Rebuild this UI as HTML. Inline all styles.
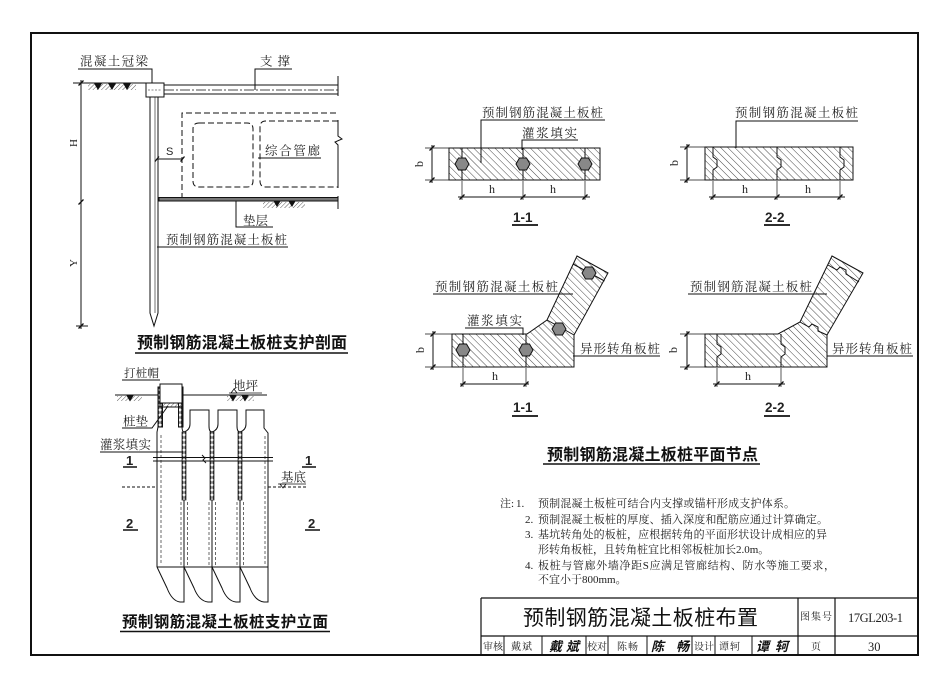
<!DOCTYPE html>
<html><head><meta charset="utf-8">
<style>
html,body{margin:0;padding:0;background:#fff;}
svg{display:block;}
text{font-family:"Liberation Serif","Noto Serif CJK SC",serif;fill:#222;font-size:12.5px;}
.s{font-family:"Liberation Sans","Noto Sans CJK SC",sans-serif;}
.t{font-family:"Liberation Sans","Noto Sans CJK SC",sans-serif;font-weight:bold;font-size:16px;fill:#111;}
.n{font-size:11px;}
.m{font-size:10px;}
</style></head><body>
<svg width="950" height="686" viewBox="0 0 950 686" xmlns="http://www.w3.org/2000/svg">
<defs>
<pattern id="ph" patternUnits="userSpaceOnUse" width="5" height="5" patternTransform="rotate(-45)"><line x1="0" y1="0" x2="0" y2="5" stroke="#333" stroke-width="0.9"/></pattern>
<pattern id="gh" patternUnits="userSpaceOnUse" width="3" height="3" patternTransform="rotate(45)"><line x1="0" y1="0" x2="0" y2="3" stroke="#333" stroke-width="0.8"/></pattern>
<pattern id="gr" patternUnits="userSpaceOnUse" width="4" height="5"><rect width="4" height="5" fill="#fff"/><ellipse cx="2" cy="2.5" rx="1.6" ry="2.2" fill="#333"/></pattern>
</defs>
<rect width="950" height="686" fill="#fff"/>
<rect x="31" y="33" width="887" height="622" fill="none" stroke="#111" stroke-width="2"/>

<!-- ========== TOP-LEFT SECTION ========== -->
<g stroke="#111" fill="none" stroke-width="1">
<line x1="73" y1="83" x2="146" y2="83"/>
<rect x="88" y="84" width="48" height="6" fill="url(#gh)" stroke="none"/>
<path d="M95,84 h6 l-3,5z M109,84 h6 l-3,5z M124,84 h6 l-3,5z" fill="#111"/>
<polyline points="78,69 152,69 152,83"/>
<rect x="146" y="83" width="18" height="14" fill="#fff"/>
<line x1="148" y1="90" x2="162" y2="90" stroke-dasharray="2 1.5" stroke-width="0.6"/>
<line x1="164" y1="85" x2="338" y2="85"/>
<line x1="164" y1="90" x2="338" y2="90" stroke-dasharray="10 2 2 2" stroke-width="0.8"/>
<line x1="164" y1="94" x2="338" y2="94"/>
<line x1="338" y1="76" x2="338" y2="96"/>
<polyline points="255,90 255,69 292,69"/>
<path d="M150,97 V313 L154,326 L158,313 V97"/>
<line x1="155" y1="97" x2="155" y2="313" stroke-width="0.6"/>
<g stroke-dasharray="6 3">
<polyline points="182,199 182,113 338,113"/>
<path d="M199,123 H247 Q253,123 253,129 V181 Q253,187 247,187 H199 Q193,187 193,181 V129 Q193,123 199,123Z"/>
<path d="M338,121 H266 Q260,121 260,127 V181 Q260,187 266,187 H338"/>
</g>
<path d="M338,120 V136 L342,139 L335,142 L338,145 V188"/>
<rect x="159" y="197.5" width="179" height="3.5" fill="#777"/>
<line x1="338" y1="196" x2="338" y2="209"/>
<rect x="263" y="202" width="42" height="6" fill="url(#gh)" stroke="none"/>
<path d="M274,201 h6 l-3,5z M289,201 h6 l-3,5z" fill="#111"/>
<polyline points="236,201 236,227 273,227"/>
<line x1="157" y1="247" x2="288" y2="247"/>
<line x1="258" y1="158" x2="321" y2="158"/>
<line x1="157" y1="159" x2="183" y2="159"/>
<path d="M155,161.5 l4,-5 M180.5,161.5 l4,-5" stroke-width="1.3"/>
<line x1="81" y1="80" x2="81" y2="329"/>
<line x1="76" y1="326" x2="88" y2="326"/>
<path d="M78.5,85.5 l5,-5 M78.5,204.5 l5,-5 M78.5,328.5 l5,-5" stroke-width="1.3"/>
</g>
<text x="80" y="65.5" textLength="68" lengthAdjust="spacing">混凝土冠梁</text>
<text x="260" y="65.5" textLength="30" lengthAdjust="spacing">支撑</text>
<text x="265" y="155" textLength="55" lengthAdjust="spacing">综合管廊</text>
<text x="166" y="155" class="s" style="font-size:11px">S</text>
<text transform="translate(77,143) rotate(-90)" text-anchor="middle" style="font-size:11px">H</text>
<text transform="translate(77,263) rotate(-90)" text-anchor="middle" style="font-size:11px">Y</text>
<text x="243" y="225" textLength="25" lengthAdjust="spacing">垫层</text>
<text x="166" y="244" textLength="121" lengthAdjust="spacing">预制钢筋混凝土板桩</text>
<text x="137" y="348" class="t" textLength="210" lengthAdjust="spacing">预制钢筋混凝土板桩支护剖面</text>
<line x1="135" y1="353" x2="348" y2="353" stroke="#111" stroke-width="1.5"/>

<!-- ========== ELEVATION ========== -->
<g stroke="#111" fill="none" stroke-width="1">
<line x1="115" y1="395" x2="267" y2="395"/>
<rect x="117" y="396" width="25" height="5" fill="url(#gh)" stroke="none"/>
<path d="M127,395.5 h6 l-3,5z" fill="#111"/>
<rect x="227" y="396" width="27" height="5" fill="url(#gh)" stroke="none"/>
<path d="M230,395.5 h6 l-3,5z M242,395.5 h6 l-3,5z" fill="#111"/>
<path d="M231,393 h6 l-3,-4z" stroke-width="0.8"/>
<line x1="229" y1="393" x2="262" y2="393" stroke-width="0.8"/>
<polyline points="122,380 160,380"/>
<rect x="158" y="387" width="4.5" height="40" fill="url(#gr)"/>
<rect x="178.5" y="387" width="4.5" height="40" fill="url(#gr)"/>
<rect x="160" y="384" width="22" height="19" fill="#fff"/>
<rect x="160" y="403" width="22" height="4" fill="url(#gh)"/>
<path d="M158,427 L157,432 V567"/>
<path d="M182,407 V426 Q182,432 184,432 Q190,430 190,424 V410 H209 V426 Q209,432 212,432 Q218,430 218,424 V410 H237 V426 Q237,432 240,432 Q246,430 246,424 V410 H264 V428 L268,433 V567"/>
<line x1="184" y1="432" x2="184" y2="567"/>
<line x1="212" y1="432" x2="212" y2="567"/>
<line x1="240" y1="432" x2="240" y2="567"/>
<rect x="182" y="432" width="4" height="68" fill="url(#gr)" stroke-width="0.7"/>
<rect x="210" y="432" width="4" height="68" fill="url(#gr)" stroke-width="0.7"/>
<rect x="238" y="432" width="4" height="68" fill="url(#gr)" stroke-width="0.7"/>
<g stroke-dasharray="3 2" stroke-width="0.8" stroke="#444">
<line x1="161" y1="435" x2="161" y2="565"/><line x1="181" y1="502" x2="181" y2="565"/>
<line x1="187.5" y1="502" x2="187.5" y2="565"/><line x1="209" y1="502" x2="209" y2="565"/>
<line x1="215.5" y1="502" x2="215.5" y2="565"/><line x1="237" y1="502" x2="237" y2="565"/>
<line x1="243.5" y1="502" x2="243.5" y2="565"/><line x1="265" y1="436" x2="265" y2="565"/>
</g>
<line x1="157" y1="567" x2="268" y2="567"/>
<path d="M157,567 L167,588 Q172,601 180,602 H184 V567"/>
<path d="M184,567 L194,588 Q199,601 208,602 H212 V567"/>
<path d="M212,567 L222,588 Q227,601 236,602 H240 V567"/>
<path d="M240,567 L250,588 Q255,601 264,602 H268 V567"/>
<line x1="153" y1="457.5" x2="273" y2="457.5" stroke-width="0.9"/>
<line x1="153" y1="461" x2="273" y2="461" stroke-width="0.9"/>
<path d="M202,455 l3,3 l-2,2 l3,3" stroke-width="0.9"/>
<line x1="122" y1="487" x2="157" y2="487" stroke-dasharray="3 2"/>
<line x1="268" y1="487" x2="307" y2="487" stroke-dasharray="3 2"/>
<line x1="278" y1="484" x2="306" y2="484" stroke-width="0.8"/>
<path d="M280,484 h6 l-3,4z" stroke-width="0.8"/>
<polyline points="122,428 152,428 168,406"/>
<polyline points="100,452 183,452"/>
<line x1="123" y1="467" x2="137" y2="467" stroke-width="1.5"/>
<line x1="302" y1="467" x2="316" y2="467" stroke-width="1.5"/>
<line x1="123" y1="530" x2="138" y2="530" stroke-width="1.5"/>
<line x1="305" y1="530" x2="320" y2="530" stroke-width="1.5"/>
</g>
<text x="124" y="377" style="font-size:11.5px" textLength="35" lengthAdjust="spacing">打桩帽</text>
<text x="233" y="390" textLength="25" lengthAdjust="spacing">地坪</text>
<text x="123" y="425.5" textLength="25" lengthAdjust="spacing">桩垫</text>
<text x="100" y="449" textLength="51" lengthAdjust="spacing">灌浆填实</text>
<text x="281" y="481.5" textLength="25" lengthAdjust="spacing">基底</text>
<text x="126" y="465" class="s" style="font-size:13px;font-weight:bold">1</text>
<text x="305" y="465" class="s" style="font-size:13px;font-weight:bold">1</text>
<text x="126" y="528" class="s" style="font-size:13px;font-weight:bold">2</text>
<text x="308" y="528" class="s" style="font-size:13px;font-weight:bold">2</text>
<text x="122" y="627" class="t" style="font-size:15.5px" textLength="206" lengthAdjust="spacing">预制钢筋混凝土板桩支护立面</text>
<line x1="120" y1="631.5" x2="330" y2="631.5" stroke="#111" stroke-width="1.5"/>

<!-- ========== PLAN 1-1 straight ========== -->
<g stroke="#111" fill="none" stroke-width="1">
<rect x="449" y="148" width="151" height="32" fill="url(#ph)"/>
<line x1="462" y1="148" x2="462" y2="180"/><line x1="523" y1="148" x2="523" y2="180"/><line x1="585" y1="148" x2="585" y2="180"/>
<g fill="#888">
<polygon points="469,164 465.5,170 458.5,170 455,164 458.5,158 465.5,158"/>
<polygon points="530,164 526.5,170 519.5,170 516,164 519.5,158 526.5,158"/>
<polygon points="592,164 588.5,170 581.5,170 578,164 581.5,158 588.5,158"/>
</g>
<polyline points="481,163 481,120 605,120"/>
<polyline points="522,150 522,140 578,140"/>
<line x1="432" y1="145" x2="432" y2="183"/>
<line x1="425" y1="148" x2="449" y2="148" stroke-width="0.7"/><line x1="425" y1="180" x2="449" y2="180" stroke-width="0.7"/>
<path d="M429.5,150.5 l5,-5 M429.5,182.5 l5,-5" stroke-width="1.3"/>
<line x1="458" y1="197" x2="590" y2="197"/>
<line x1="462" y1="181" x2="462" y2="200" stroke-width="0.7"/><line x1="523" y1="181" x2="523" y2="200" stroke-width="0.7"/><line x1="585" y1="181" x2="585" y2="200" stroke-width="0.7"/>
<path d="M459.5,199.5 l5,-5 M520.5,199.5 l5,-5 M582.5,199.5 l5,-5" stroke-width="1.3"/>
<line x1="512" y1="225" x2="538" y2="225" stroke-width="1.8"/>
</g>
<text x="482" y="117" textLength="121" lengthAdjust="spacing">预制钢筋混凝土板桩</text>
<text x="522" y="137.5" textLength="55" lengthAdjust="spacing">灌浆填实</text>
<text transform="translate(423,164) rotate(-90)" text-anchor="middle" style="font-size:12px">b</text>
<text x="489" y="193" style="font-size:12px">h</text>
<text x="550" y="193" style="font-size:12px">h</text>
<text x="513" y="222" class="s" style="font-size:13.5px;font-weight:bold">1-1</text>

<!-- ========== PLAN 2-2 straight ========== -->
<g stroke="#111" fill="none" stroke-width="1">
<rect x="705" y="147" width="148" height="33" fill="url(#ph)"/>
<path d="M713,147 V157 L717,160 V167 L713,170 V180"/>
<path d="M777,147 V157 L781,160 V167 L777,170 V180"/>
<path d="M840,147 V157 L844,160 V167 L840,170 V180"/>
<polyline points="736,148 736,121 858,121"/>
<line x1="687" y1="144" x2="687" y2="183"/>
<line x1="680" y1="147" x2="705" y2="147" stroke-width="0.7"/><line x1="680" y1="180" x2="705" y2="180" stroke-width="0.7"/>
<path d="M684.5,149.5 l5,-5 M684.5,182.5 l5,-5" stroke-width="1.3"/>
<line x1="709" y1="197" x2="845" y2="197"/>
<line x1="713" y1="181" x2="713" y2="200" stroke-width="0.7"/><line x1="777" y1="181" x2="777" y2="200" stroke-width="0.7"/><line x1="840" y1="181" x2="840" y2="200" stroke-width="0.7"/>
<path d="M710.5,199.5 l5,-5 M774.5,199.5 l5,-5 M837.5,199.5 l5,-5" stroke-width="1.3"/>
<line x1="764" y1="225" x2="790" y2="225" stroke-width="1.8"/>
</g>
<text x="735" y="117" textLength="123" lengthAdjust="spacing">预制钢筋混凝土板桩</text>
<text transform="translate(678,163) rotate(-90)" text-anchor="middle" style="font-size:12px">b</text>
<text x="742" y="193" style="font-size:12px">h</text>
<text x="805" y="193" style="font-size:12px">h</text>
<text x="765" y="222" class="s" style="font-size:13.5px;font-weight:bold">2-2</text>

<!-- ========== PLAN 1-1 corner ========== -->
<g stroke="#111" fill="none" stroke-width="1">
<polygon points="452,334 527,334 547,320 577,256 608,273 574,335 574,367 452,367" fill="url(#ph)"/>
<line x1="463" y1="334" x2="463" y2="367"/><line x1="526" y1="334" x2="526" y2="367"/>
<line x1="547" y1="320" x2="574" y2="335"/>
<line x1="573" y1="264" x2="604.5" y2="281"/>
<g fill="#888">
<polygon points="470,350 466.5,356 459.5,356 456,350 459.5,344 466.5,344"/>
<polygon points="533,350 529.5,356 522.5,356 519,350 522.5,344 529.5,344"/>
<polygon points="566,329 562.5,335 555.5,335 552,329 555.5,323 562.5,323"/>
<polygon points="596,273 592.5,279 585.5,279 582,273 585.5,267 592.5,267"/>
</g>
<line x1="433" y1="294" x2="573" y2="294"/>
<polyline points="465,328 523,328 523,335"/>
<line x1="573" y1="356" x2="660" y2="356"/>
<line x1="433" y1="331" x2="433" y2="370"/>
<line x1="425" y1="334" x2="452" y2="334" stroke-width="0.7"/><line x1="425" y1="367" x2="452" y2="367" stroke-width="0.7"/>
<path d="M430.5,336.5 l5,-5 M430.5,369.5 l5,-5" stroke-width="1.3"/>
<line x1="460" y1="384" x2="529" y2="384"/>
<line x1="463" y1="368" x2="463" y2="387" stroke-width="0.7"/><line x1="526" y1="368" x2="526" y2="387" stroke-width="0.7"/>
<path d="M460.5,386.5 l5,-5 M523.5,386.5 l5,-5" stroke-width="1.3"/>
<line x1="512" y1="416" x2="538" y2="416" stroke-width="1.8"/>
</g>
<text x="435" y="291" textLength="123" lengthAdjust="spacing">预制钢筋混凝土板桩</text>
<text x="467" y="325" textLength="55" lengthAdjust="spacing">灌浆填实</text>
<text x="580" y="353" textLength="80" lengthAdjust="spacing">异形转角板桩</text>
<text transform="translate(424,350) rotate(-90)" text-anchor="middle" style="font-size:12px">b</text>
<text x="492" y="380" style="font-size:12px">h</text>
<text x="513" y="412" class="s" style="font-size:13.5px;font-weight:bold">1-1</text>

<!-- ========== PLAN 2-2 corner ========== -->
<g stroke="#111" fill="none" stroke-width="1">
<polygon points="705,334 778,334 800,322 832,256 863,273 827,335 827,367 705,367" fill="url(#ph)"/>
<path d="M717,334 V344 L721,347 V354 L717,357 V367"/>
<path d="M781,334 V344 L785,347 V354 L781,357 V367"/>
<path d="M800,322 L809,327 L812,324 L818,327 L818,331 L827,335"/>
<path d="M828,265 L837,270 L840,267 L846,270 L846,274 L859,282"/>
<line x1="688" y1="294" x2="827" y2="294"/>
<line x1="827" y1="356" x2="913" y2="356"/>
<line x1="687" y1="331" x2="687" y2="370"/>
<line x1="680" y1="334" x2="705" y2="334" stroke-width="0.7"/><line x1="680" y1="367" x2="705" y2="367" stroke-width="0.7"/>
<path d="M684.5,336.5 l5,-5 M684.5,369.5 l5,-5" stroke-width="1.3"/>
<line x1="713" y1="384" x2="785" y2="384"/>
<line x1="717" y1="368" x2="717" y2="387" stroke-width="0.7"/><line x1="781" y1="368" x2="781" y2="387" stroke-width="0.7"/>
<path d="M714.5,386.5 l5,-5 M778.5,386.5 l5,-5" stroke-width="1.3"/>
<line x1="764" y1="416" x2="790" y2="416" stroke-width="1.8"/>
</g>
<text x="690" y="291" textLength="122" lengthAdjust="spacing">预制钢筋混凝土板桩</text>
<text x="832" y="353" textLength="80" lengthAdjust="spacing">异形转角板桩</text>
<text transform="translate(677,350) rotate(-90)" text-anchor="middle" style="font-size:12px">b</text>
<text x="745" y="380" style="font-size:12px">h</text>
<text x="765" y="412" class="s" style="font-size:13.5px;font-weight:bold">2-2</text>

<text x="547" y="460" class="t" textLength="211" lengthAdjust="spacing">预制钢筋混凝土板桩平面节点</text>
<line x1="543" y1="464" x2="760" y2="464" stroke="#111" stroke-width="1.5"/>

<!-- ========== NOTES ========== -->
<text x="500" y="507" class="n">注:</text>
<text x="516" y="507" class="n">1.</text>
<text x="538" y="507" class="n" textLength="257" lengthAdjust="spacing">预制混凝土板桩可结合内支撑或锚杆形成支护体系。</text>
<text x="525" y="523" class="n">2.</text>
<text x="538" y="523" class="n" textLength="290" lengthAdjust="spacing">预制混凝土板桩的厚度、插入深度和配筋应通过计算确定。</text>
<text x="525" y="538" class="n">3.</text>
<text x="538" y="538" class="n" textLength="289" lengthAdjust="spacing">基坑转角处的板桩，应根据转角的平面形状设计成相应的异</text>
<text x="538" y="553" class="n">形转角板桩，且转角桩宜比相邻板桩加长2.0m。</text>
<text x="525" y="569" class="n">4.</text>
<text x="538" y="569" class="n" textLength="297" lengthAdjust="spacing">板桩与管廊外墙净距S应满足管廊结构、防水等施工要求，</text>
<text x="538" y="583" class="n">不宜小于800mm。</text>

<!-- ========== TITLE BLOCK ========== -->
<g stroke="#111" fill="none" stroke-width="1.2">
<line x1="481" y1="598" x2="918" y2="598"/>
<line x1="481" y1="598" x2="481" y2="655"/>
<line x1="481" y1="636" x2="918" y2="636"/>
<line x1="798" y1="598" x2="798" y2="655"/>
<line x1="835" y1="598" x2="835" y2="655"/>
<g stroke-width="1">
<line x1="504" y1="636" x2="504" y2="655"/><line x1="542" y1="636" x2="542" y2="655"/>
<line x1="586" y1="636" x2="586" y2="655"/><line x1="608" y1="636" x2="608" y2="655"/>
<line x1="647" y1="636" x2="647" y2="655"/><line x1="692" y1="636" x2="692" y2="655"/>
<line x1="715" y1="636" x2="715" y2="655"/><line x1="752" y1="636" x2="752" y2="655"/>
</g>
</g>
<text x="523" y="625" class="s" style="font-size:21px;fill:#111" textLength="235" lengthAdjust="spacing">预制钢筋混凝土板桩布置</text>
<text x="800" y="620" class="m" textLength="32" lengthAdjust="spacing">图集号</text>
<text x="848" y="622" style="font-size:12.5px" textLength="55" lengthAdjust="spacing">17GL203-1</text>
<text x="483" y="650" class="m" textLength="20" lengthAdjust="spacing">审核</text>
<text x="511" y="650" class="m" textLength="21" lengthAdjust="spacing">戴斌</text>
<text x="549" y="651" class="s" style="font-size:13px;font-weight:bold;font-style:italic;fill:#111" textLength="30" lengthAdjust="spacing">戴斌</text>
<text x="587" y="650" class="m" textLength="20" lengthAdjust="spacing">校对</text>
<text x="617" y="650" class="m" textLength="21" lengthAdjust="spacing">陈畅</text>
<text x="651" y="651" class="s" style="font-size:13px;font-weight:bold;font-style:italic;fill:#111" textLength="38" lengthAdjust="spacing">陈畅</text>
<text x="694" y="650" class="m" textLength="20" lengthAdjust="spacing">设计</text>
<text x="719" y="650" class="m" textLength="21" lengthAdjust="spacing">谭轲</text>
<text x="756" y="651" class="s" style="font-size:13px;font-weight:bold;font-style:italic;fill:#111" textLength="32" lengthAdjust="spacing">谭轲</text>
<text x="811" y="650" class="m">页</text>
<text x="868" y="651" style="font-size:12.5px">30</text>
</svg>
</body></html>
